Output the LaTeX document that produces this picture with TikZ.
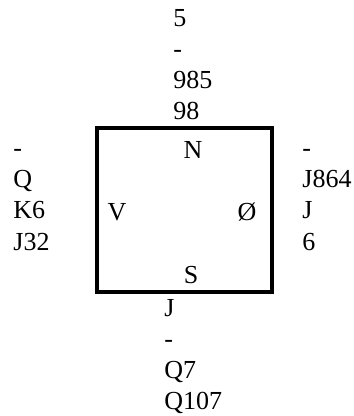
\documentclass[tikz,border=0pt]{standalone}
\usepackage{fontspec}
\setmainfont{Liberation Serif}
\usetikzlibrary{positioning}
\tikzset{
  hand/.style ={font=\fontsize{13}{15}\selectfont, inner sep=0pt, anchor=base west},
  seat/.style ={font=\fontsize{13}{15}\selectfont, inner sep=0pt},
  table/.style={draw, line width=1.6pt, minimum width=87.5pt, minimum height=82pt, inner sep=0pt},
}

\begin{document}
\begin{tikzpicture}[x=0.5pt, y=-0.5pt]
  \useasboundingbox (0,0) rectangle (353,416);
  \node[table] (tbl) at (184.5,210) {};

  \node[seat] (sN) at (193,150) {N};
  \node[seat] (sS) at (191,275) {S};
  \node[seat] (sV) at (117,212) {V};
  \node[seat] (sE) at (247,212) {Ø};

  % north hand
  \foreach \c [count=\i] in {5,-,985,98}
    \node[hand] (n\i) at (173,27+31*\i-31) {\c};
  % west hand
  \foreach \c [count=\i] in {-,Q,K6,J32}
    \node[hand] (w\i) at (13,157+31*\i-31) {\c};
  % east hand
  \foreach \c [count=\i] in {-,J864,J,6}
    \node[hand] (e\i) at (302,157+31*\i-31) {\c};
  % south hand
  \foreach \c [count=\i] in {J,-,Q7,Q107}
    \node[hand] (s\i) at (164,316+31*\i-31) {\c};
\end{tikzpicture}
\end{document}
